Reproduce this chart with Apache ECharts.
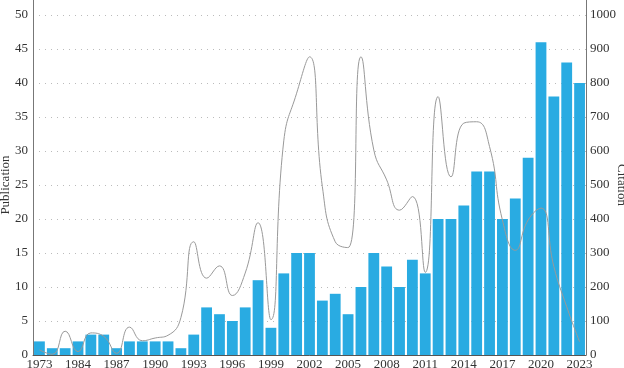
<!DOCTYPE html>
<html>
<head>
<meta charset="utf-8">
<script src="https://cdn.jsdelivr.net/npm/echarts@6/dist/echarts.min.js"></script>
<style>
  html, body { margin: 0; padding: 0; background: #fff; }
  #chart { width: 624px; height: 368px; }
</style>
</head>
<body>
<div id="chart"></div>
<script>
// years (only every third label is shown)
var years = ['1973', '1981', '1983', '1984', '1985', '1986', '1987', '1988', '1989', '1990',
  '1991', '1992', '1993', '1994', '1995', '1996', '1997', '1998', '1999', '2000',
  '2001', '2002', '2003', '2004', '2005', '2006', '2007', '2008', '2009', '2010',
  '2011', '2012', '2013', '2014', '2015', '2016', '2017', '2018', '2019', '2020',
  '2021', '2022', '2023'];

var publications = [2, 1, 1, 2, 3, 3, 1, 2, 2, 2, 2, 1, 3, 7, 6, 5, 7, 11, 4, 12,
  15, 15, 8, 9, 6, 10, 15, 13, 10, 14, 12, 20, 20, 22, 27, 27, 20, 23, 29, 46,
  38, 43, 40];

var citations = [15, 2, 70, 10, 65, 55, 5, 82, 42, 50, 58, 110, 333, 226, 262, 175, 241, 389, 104, 630,
  770, 877, 495, 333, 316, 877, 603, 515, 426, 466, 243, 760, 524, 682, 686, 613, 397, 308, 397, 432,
  260, 142, 39];

var font = '"Liberation Serif", "DejaVu Serif", serif';

var chart = echarts.init(document.getElementById('chart'));
var option = {
  animation: false,
  textStyle: { fontFamily: font },
  grid: { left: 33, right: 38, top: 15, bottom: 13, outerBoundsMode: 'none', containLabel: false },
  xAxis: {
    type: 'category',
    data: years,
    axisLine: { lineStyle: { color: '#555' } },
    axisTick: { show: false },
    axisLabel: { interval: 2, margin: 3, color: '#333', fontSize: 13, fontFamily: font }
  },
  yAxis: [
    {
      type: 'value',
      name: 'Publication',
      nameLocation: 'middle',
      nameGap: 21,
      nameMoveOverlap: false,
      nameTextStyle: { color: '#333', fontSize: 13, fontFamily: font },
      min: 0, max: 50, interval: 5,
      axisLine: { show: true, lineStyle: { color: '#777' } },
      axisTick: { show: false },
      axisLabel: { margin: 5, color: '#333', fontSize: 13, fontFamily: font },
      splitLine: { lineStyle: { color: '#bbb', type: [1, 5] } }
    },
    {
      type: 'value',
      name: 'Citation',
      nameLocation: 'middle',
      nameRotate: -90,
      nameGap: 29,
      nameMoveOverlap: false,
      nameTextStyle: { color: '#333', fontSize: 13, fontFamily: font },
      min: 0, max: 1000, interval: 100,
      axisLine: { show: true, lineStyle: { color: '#777' } },
      axisTick: { show: false },
      axisLabel: { margin: 4, color: '#333', fontSize: 13, fontFamily: font, formatter: function (v) { return String(v); } },
      splitLine: { show: false }
    }
  ],
  // axis lines run up to the top edge above the last gridline
  graphic: [
    { type: 'line', shape: { x1: 33.5, y1: 0, x2: 33.5, y2: 15 }, style: { stroke: '#777', lineWidth: 1 } },
    { type: 'line', shape: { x1: 586.5, y1: 0, x2: 586.5, y2: 15 }, style: { stroke: '#777', lineWidth: 1 } }
  ],
  series: [
    {
      name: 'Publication',
      type: 'bar',
      data: publications,
      barCategoryGap: '16%',
      itemStyle: { color: '#29abe2' }
    },
    {
      name: 'Citation',
      type: 'line',
      yAxisIndex: 1,
      data: citations,
      smooth: 0.5,
      showSymbol: false,
      lineStyle: { color: '#999', width: 1 }
    }
  ]
};
chart.setOption(option);
</script>
</body>
</html>
